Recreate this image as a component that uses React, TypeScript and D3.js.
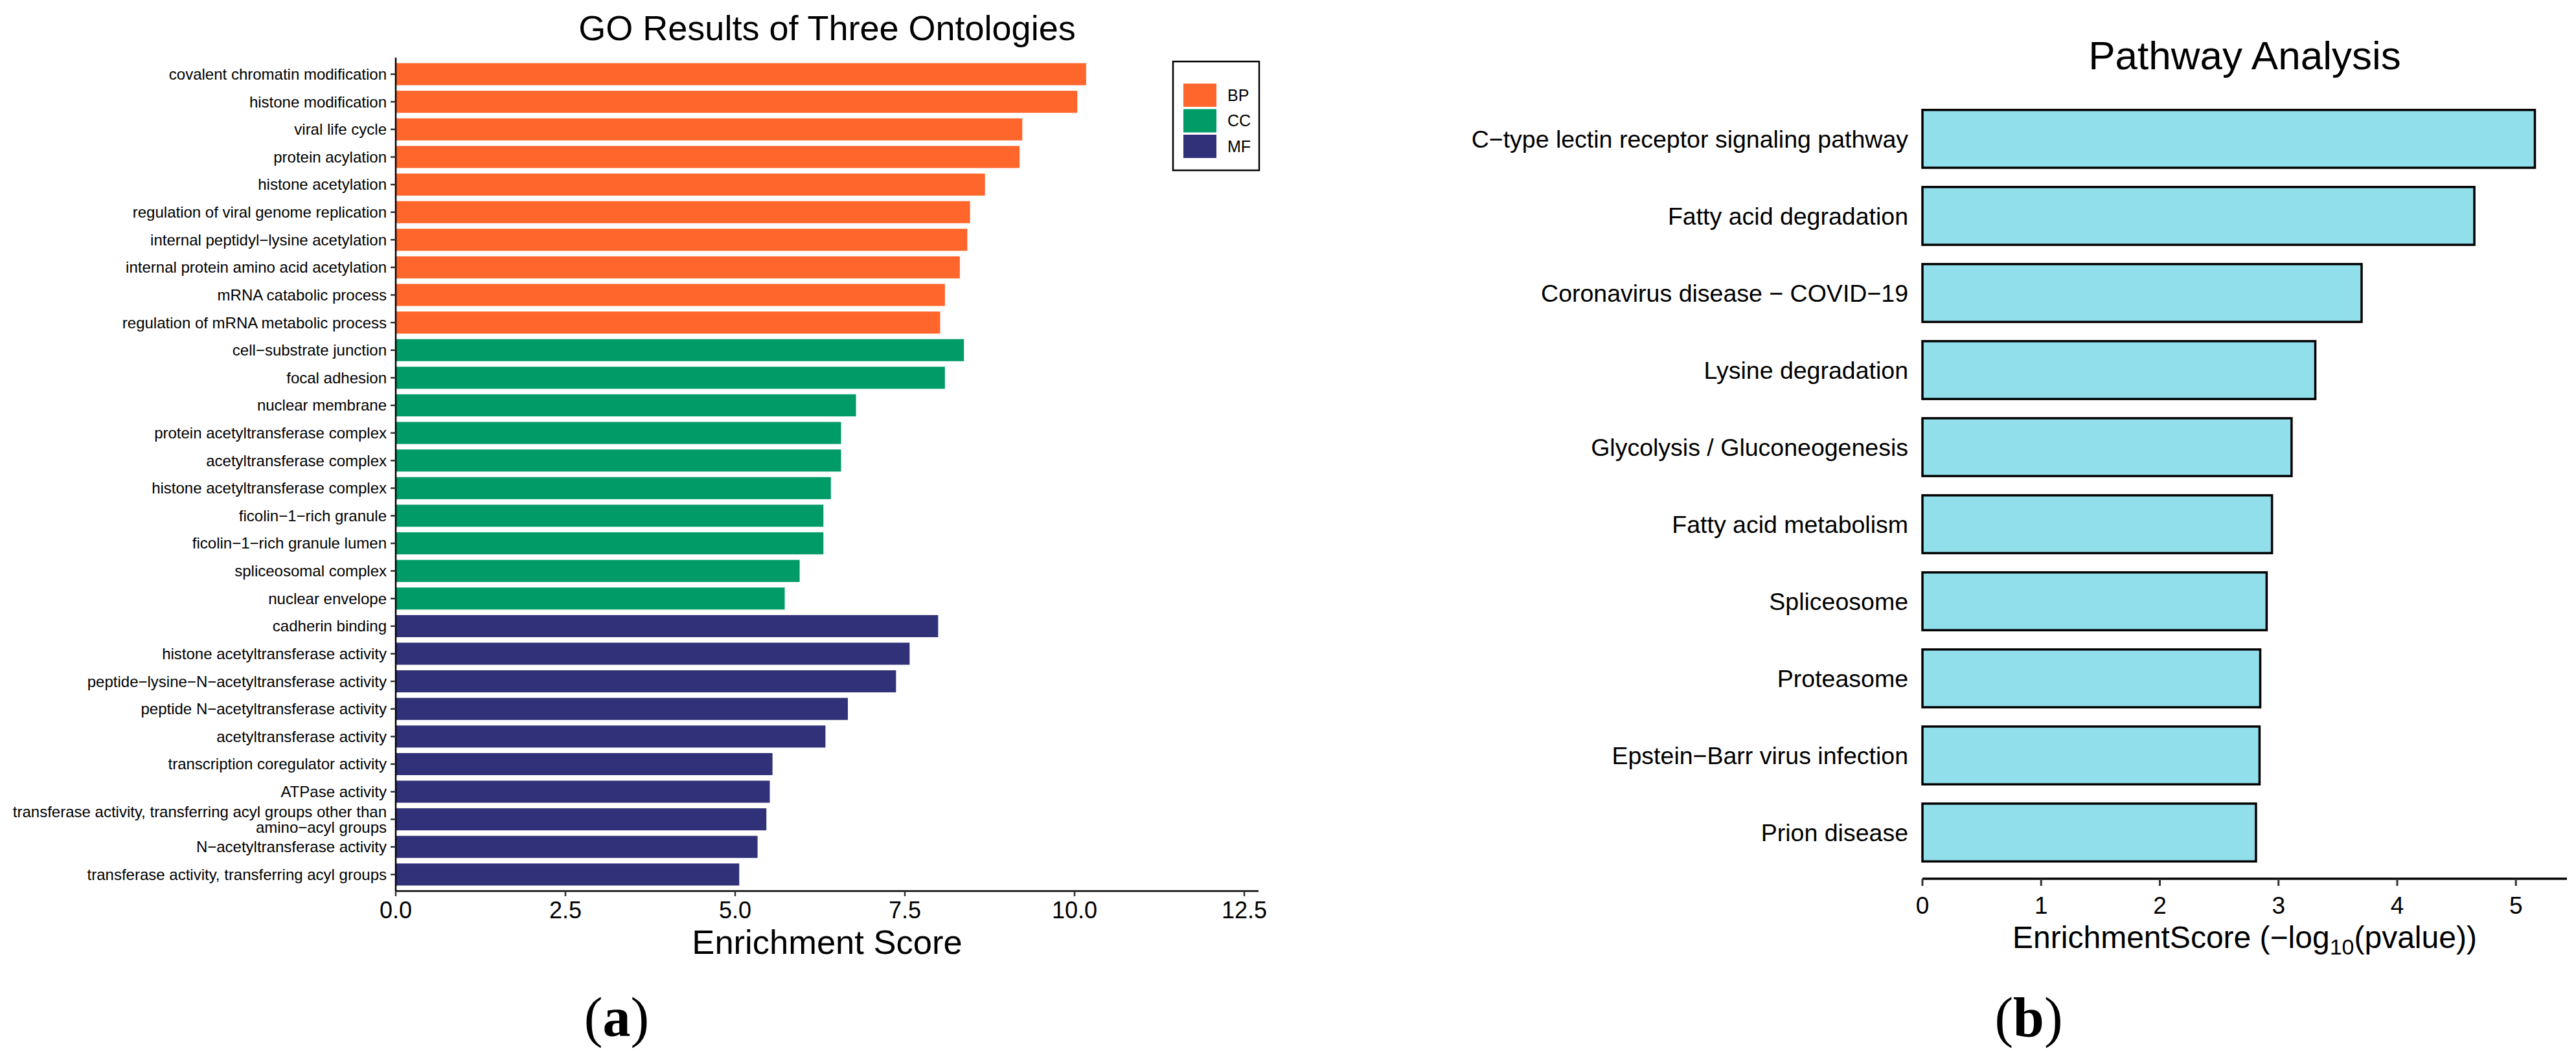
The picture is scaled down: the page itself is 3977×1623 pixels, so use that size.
import React from 'react';
import * as d3 from 'd3';

// ---------- Data: GO panel ----------
const goTerms = [
  'covalent chromatin modification',
  'histone modification',
  'viral life cycle',
  'protein acylation',
  'histone acetylation',
  'regulation of viral genome replication',
  'internal peptidyl\u2212lysine acetylation',
  'internal protein amino acid acetylation',
  'mRNA catabolic process',
  'regulation of mRNA metabolic process',
  'cell\u2212substrate junction',
  'focal adhesion',
  'nuclear membrane',
  'protein acetyltransferase complex',
  'acetyltransferase complex',
  'histone acetyltransferase complex',
  'ficolin\u22121\u2212rich granule',
  'ficolin\u22121\u2212rich granule lumen',
  'spliceosomal complex',
  'nuclear envelope',
  'cadherin binding',
  'histone acetyltransferase activity',
  'peptide\u2212lysine\u2212N\u2212acetyltransferase activity',
  'peptide N\u2212acetyltransferase activity',
  'acetyltransferase activity',
  'transcription coregulator activity',
  'ATPase activity',
  'transferase activity, transferring acyl groups other than\namino\u2212acyl groups',
  'N\u2212acetyltransferase activity',
  'transferase activity, transferring acyl groups',
];
const goScores = [
  10.17, 10.04, 9.23, 9.19, 8.68, 8.46, 8.42, 8.31, 8.09, 8.02,
  8.37, 8.09, 6.78, 6.56, 6.56, 6.41, 6.3, 6.3, 5.95, 5.73,
  7.99, 7.57, 7.37, 6.66, 6.33, 5.55, 5.51, 5.46, 5.33, 5.06,
];
const goOntology = [
  'BP', 'BP', 'BP', 'BP', 'BP', 'BP', 'BP', 'BP', 'BP', 'BP',
  'CC', 'CC', 'CC', 'CC', 'CC', 'CC', 'CC', 'CC', 'CC', 'CC',
  'MF', 'MF', 'MF', 'MF', 'MF', 'MF', 'MF', 'MF', 'MF', 'MF',
];
const ontologyKeys = ['BP', 'CC', 'MF'];
const ontologyColors = ['#FF662C', '#009B66', '#303178'];
const goTicks = [0, 2.5, 5, 7.5, 10, 12.5];

// ---------- Data: pathway panel ----------
const pathways = [
  'C\u2212type lectin receptor signaling pathway',
  'Fatty acid degradation',
  'Coronavirus disease \u2212 COVID\u221219',
  'Lysine degradation',
  'Glycolysis / Gluconeogenesis',
  'Fatty acid metabolism',
  'Spliceosome',
  'Proteasome',
  'Epstein\u2212Barr virus infection',
  'Prion disease',
];
const pathwayScores = [5.16, 4.65, 3.7, 3.31, 3.11, 2.945, 2.9, 2.846, 2.84, 2.81];
const pathwayTicks = [0, 1, 2, 3, 4, 5];

const SANS = "'Liberation Sans', Arial, Helvetica, sans-serif";
const SERIF = "'Liberation Serif', 'Times New Roman', serif";

export default function App() {
  // ---- GO panel scales ----
  const gx = d3.scaleLinear().domain([0, 12.71]).range([611, 1943]);
  const gy = d3
    .scaleBand<string>()
    .domain(goTerms)
    .range([89, 1376])
    .paddingInner(0.2)
    .paddingOuter(0.2);
  const color = d3.scaleOrdinal<string, string>().domain(ontologyKeys).range(ontologyColors);
  const goBottom = 1376;

  // ---- Pathway panel scales ----
  const px = d3.scaleLinear().domain([0, 5.43]).range([2968, 3963]);
  const py = d3
    .scaleBand<string>()
    .domain(pathways)
    .range([143, 1357])
    .paddingInner(0.25)
    .paddingOuter(0.225);
  const pBottom = 1357;

  return (
    <svg
      width={3977}
      height={1623}
      viewBox="0 0 3977 1623"
      style={{ position: 'absolute', left: 0, top: 0, background: '#fff' }}
      fontFamily={SANS}
    >
      <rect x={0} y={0} width={3977} height={1623} fill="#fff" />

      {/* ================= GO panel ================= */}
      <text x={(gx.range()[0] + gx.range()[1]) / 2} y={62} fontSize={54} textAnchor="middle" fill="#000">
        GO Results of Three Ontologies
      </text>

      {goTerms.map((t, i) => (
        <rect
          key={'gb' + i}
          x={gx(0)}
          y={gy(t)!}
          width={gx(goScores[i]) - gx(0)}
          height={gy.bandwidth()}
          fill={color(goOntology[i])}
        />
      ))}

      {/* y axis */}
      <line x1={611} x2={611} y1={89} y2={goBottom} stroke="#000" strokeWidth={2.5} />
      {goTerms.map((t, i) => {
        const cy = gy(t)! + gy.bandwidth() / 2;
        const lines = t.split('\n');
        return (
          <g key={'gl' + i}>
            <line x1={603} x2={611} y1={cy} y2={cy} stroke="#333" strokeWidth={2.5} />
            <text x={597} y={cy} fontSize={24} textAnchor="end" fill="#000">
              {lines.map((ln, j) => (
                <tspan
                  key={j}
                  x={597}
                  dy={j === 0 ? `${0.35 - ((lines.length - 1) * 1.0) / 2}em` : '1.0em'}
                >
                  {ln}
                </tspan>
              ))}
            </text>
          </g>
        );
      })}

      {/* x axis */}
      <line x1={611} x2={1943} y1={goBottom} y2={goBottom} stroke="#000" strokeWidth={2.5} />
      {goTicks.map((v) => (
        <g key={'gt' + v}>
          <line x1={gx(v)} x2={gx(v)} y1={goBottom} y2={goBottom + 8} stroke="#333" strokeWidth={2.5} />
          <text x={gx(v)} y={1418} fontSize={36} textAnchor="middle" fill="#000">
            {d3.format('.1f')(v)}
          </text>
        </g>
      ))}
      <text x={(gx.range()[0] + gx.range()[1]) / 2} y={1473} fontSize={52.5} textAnchor="middle" fill="#000">
        Enrichment Score
      </text>

      {/* legend */}
      <rect x={1811} y={95} width={133} height={168} fill="#fff" stroke="#000" strokeWidth={2.5} />
      {ontologyKeys.map((k, i) => (
        <g key={'lg' + k}>
          <rect x={1827} y={129 + i * 39.5} width={51} height={36} fill={color(k)} />
          <text x={1895} y={129 + i * 39.5 + 18} dy="0.35em" fontSize={25} fill="#000">
            {k}
          </text>
        </g>
      ))}

      {/* (a) */}
      <text x={952} y={1600} fontSize={86} textAnchor="middle" fontFamily={SERIF} fill="#000">
        <tspan>(</tspan>
        <tspan fontWeight="bold">a</tspan>
        <tspan>)</tspan>
      </text>

      {/* ================= Pathway panel ================= */}
      <text x={(px.range()[0] + px.range()[1]) / 2} y={107} fontSize={62} textAnchor="middle" fill="#000">
        Pathway Analysis
      </text>

      {pathways.map((p, i) => (
        <rect
          key={'pb' + i}
          x={px(0)}
          y={py(p)!}
          width={px(pathwayScores[i]) - px(0)}
          height={py.bandwidth()}
          fill="#92DFEC"
          stroke="#000"
          strokeWidth={3.5}
        />
      ))}
      {pathways.map((p, i) => (
        <text
          key={'pl' + i}
          x={2946}
          y={py(p)! + py.bandwidth() / 2}
          dy="0.35em"
          fontSize={37.5}
          textAnchor="end"
          fill="#000"
        >
          {p}
        </text>
      ))}

      <line x1={2968} x2={3963} y1={pBottom} y2={pBottom} stroke="#000" strokeWidth={3.5} />
      {pathwayTicks.map((v) => (
        <g key={'pt' + v}>
          <line x1={px(v)} x2={px(v)} y1={pBottom} y2={pBottom + 11} stroke="#333" strokeWidth={3} />
          <text x={px(v)} y={1411} fontSize={37} textAnchor="middle" fill="#000">
            {v}
          </text>
        </g>
      ))}
      <text x={(px.range()[0] + px.range()[1]) / 2} y={1464} fontSize={48} textAnchor="middle" fill="#000">
        <tspan>EnrichmentScore (−log</tspan>
        <tspan fontSize={34} dy={10}>10</tspan>
        <tspan dy={-10}>(pvalue))</tspan>
      </text>

      {/* (b) */}
      <text x={3132} y={1600} fontSize={86} textAnchor="middle" fontFamily={SERIF} fill="#000">
        <tspan>(</tspan>
        <tspan fontWeight="bold">b</tspan>
        <tspan>)</tspan>
      </text>
    </svg>
  );
}
